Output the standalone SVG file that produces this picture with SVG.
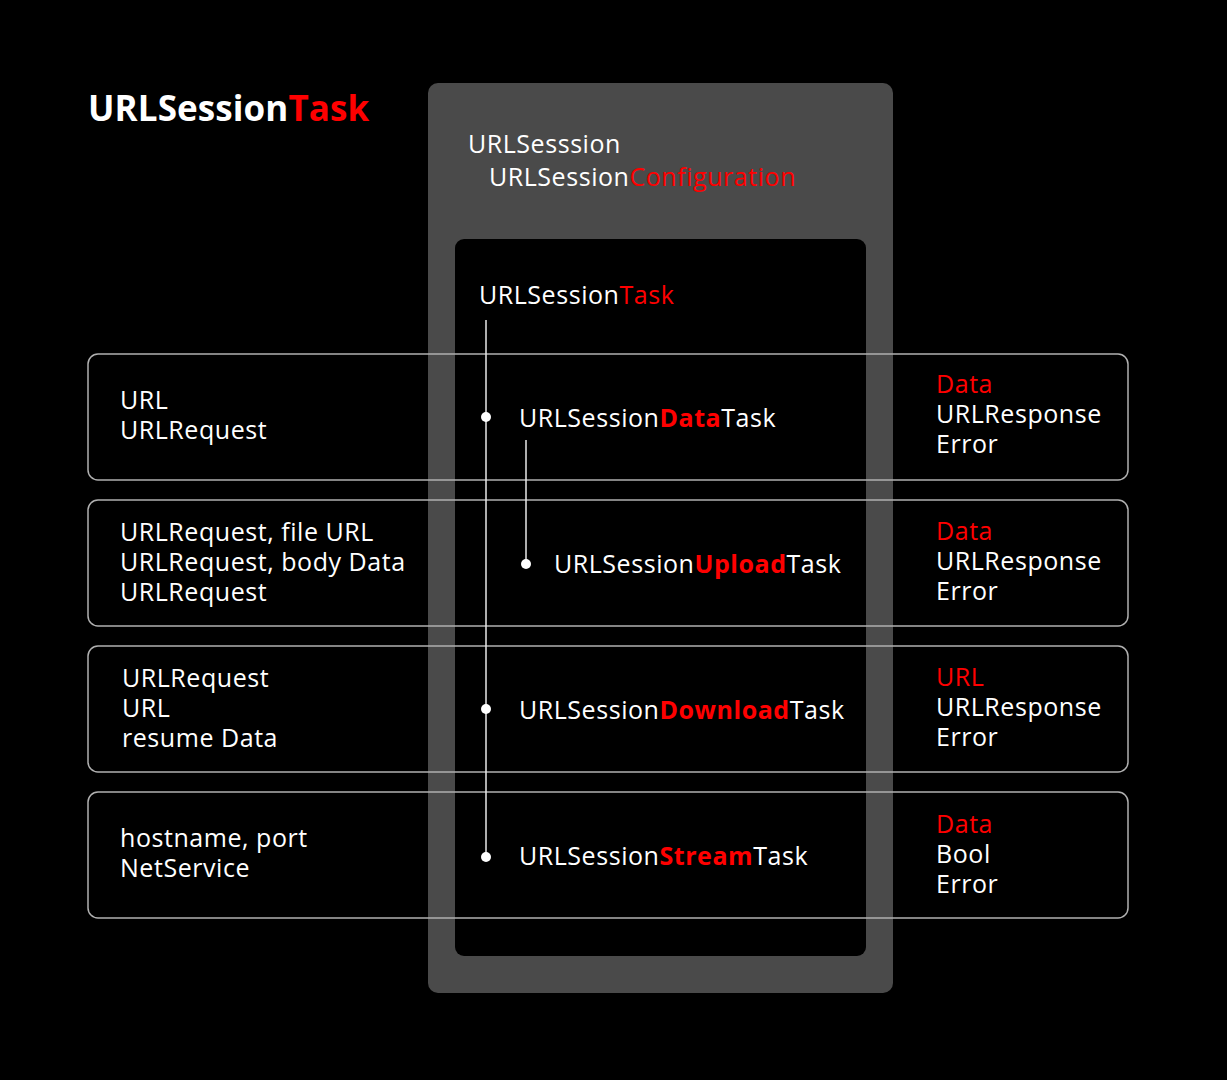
<svg xmlns="http://www.w3.org/2000/svg" width="1227" height="1080" viewBox="0 0 1227 1080">
<style>
text{font-family:"Open Sans","Noto Sans","Liberation Sans",sans-serif;fill:#fff;font-size:25px;letter-spacing:0.55px}
.r{fill:#ff0000}
.b{font-weight:bold}
.row{fill:none;stroke:#b0b0b0;stroke-width:1.5}
.ln{stroke:#e8e8e8;stroke-width:1.5;fill:none}
.dot{fill:#fff}
</style>
<rect x="0" y="0" width="1227" height="1080" fill="#000"/>
<g id="title"><text x="88" y="121" class="b" style="font-size:35px;letter-spacing:0.1px">URLSession<tspan class="r">Task</tspan></text></g>
<g id="session">
<rect x="428" y="83" width="465" height="910" rx="10" fill="#4a4a4a"/>
<text x="468" y="153">URLSesssion</text>
<text x="489" y="186">URLSession<tspan class="r">Configuration</tspan></text>
</g>
<g id="task">
<rect x="455" y="239" width="411" height="717" rx="9" fill="#000"/>
<text x="479" y="304">URLSession<tspan class="r">Task</tspan></text>
</g>
<g id="row-data">
<rect class="row" x="88" y="354" width="1040" height="126" rx="10"/>
<text x="120" y="409">URL</text>
<text x="120" y="439">URLRequest</text>
<text x="519" y="427">URLSession<tspan class="r b">Data</tspan>Task</text>
<text x="936" y="393" class="r">Data</text>
<text x="936" y="423">URLResponse</text>
<text x="936" y="453">Error</text>
</g>
<g id="row-upload">
<rect class="row" x="88" y="500" width="1040" height="126" rx="10"/>
<text x="120" y="541">URLRequest, file URL</text>
<text x="120" y="571">URLRequest, body Data</text>
<text x="120" y="601">URLRequest</text>
<text x="554" y="573">URLSession<tspan class="r b">Upload</tspan>Task</text>
<text x="936" y="540" class="r">Data</text>
<text x="936" y="570">URLResponse</text>
<text x="936" y="600">Error</text>
</g>
<g id="row-download">
<rect class="row" x="88" y="646" width="1040" height="126" rx="10"/>
<text x="122" y="687">URLRequest</text>
<text x="122" y="717">URL</text>
<text x="122" y="747">resume Data</text>
<text x="519" y="719">URLSession<tspan class="r b">Download</tspan>Task</text>
<text x="936" y="686" class="r">URL</text>
<text x="936" y="716">URLResponse</text>
<text x="936" y="746">Error</text>
</g>
<g id="row-stream">
<rect class="row" x="88" y="792" width="1040" height="126" rx="10"/>
<text x="120" y="847">hostname, port</text>
<text x="120" y="877">NetService</text>
<text x="519" y="865">URLSession<tspan class="r b">Stream</tspan>Task</text>
<text x="936" y="833" class="r">Data</text>
<text x="936" y="863">Bool</text>
<text x="936" y="893">Error</text>
</g>
<g id="connectors">
<line class="ln" x1="486" y1="320" x2="486" y2="857"/>
<line class="ln" x1="526" y1="440" x2="526" y2="564"/>
<circle class="dot" cx="486" cy="417" r="5"/>
<circle class="dot" cx="526" cy="564" r="5"/>
<circle class="dot" cx="486" cy="709" r="5"/>
<circle class="dot" cx="486" cy="857" r="5"/>
</g>
</svg>
